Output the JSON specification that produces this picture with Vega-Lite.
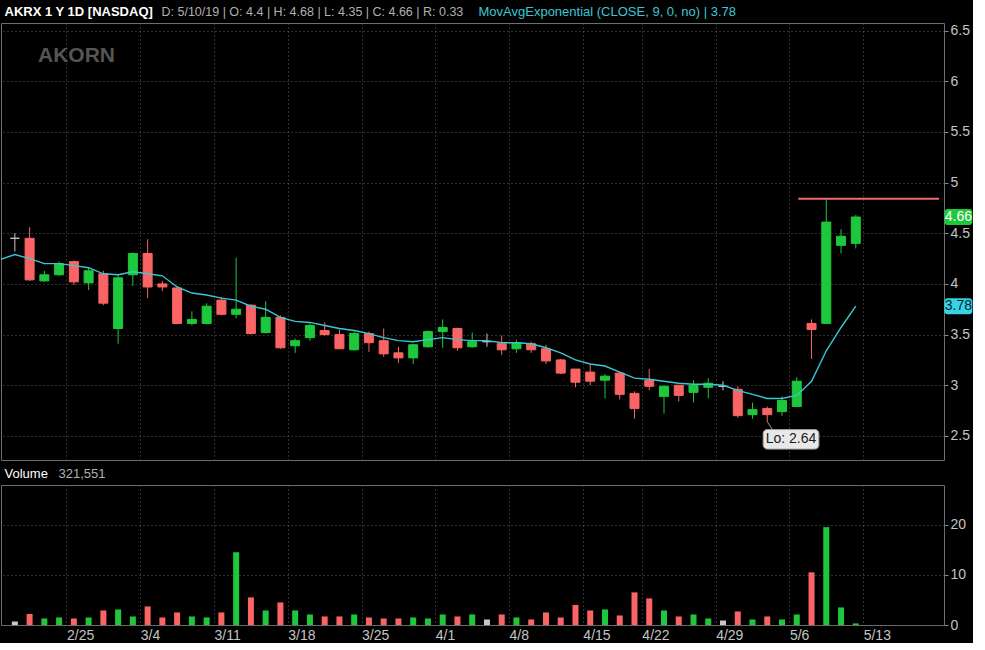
{
  "$schema": "https://vega.github.io/schema/vega-lite/v6.json",
  "background": "#000000",
  "padding": {"left": 0, "top": 5, "right": 0, "bottom": 0},
  "spacing": 5,
  "config": {
    "view": {"stroke": "#6e6e6e", "strokeWidth": 1},
    "font": "Liberation Sans",
    "axis": {"labelFont": "Liberation Sans", "titleFont": "Liberation Sans"}
  },
  "datasets": {
    "ohlc": [
      {"i": -1, "d": "2/15", "ema": 4.24},
      {"i": 0, "d": "2/19", "o": 4.45, "h": 4.50, "l": 4.32, "c": 4.45, "v": 0.7, "ema": 4.29, "dir": "flat"},
      {"i": 1, "d": "2/20", "o": 4.45, "h": 4.56, "l": 4.03, "c": 4.04, "v": 2.2, "ema": 4.25, "dir": "down"},
      {"i": 2, "d": "2/21", "o": 4.03, "h": 4.13, "l": 4.02, "c": 4.09, "v": 1.3, "ema": 4.20, "dir": "up"},
      {"i": 3, "d": "2/22", "o": 4.09, "h": 4.22, "l": 4.08, "c": 4.20, "v": 1.5, "ema": 4.20, "dir": "up"},
      {"i": 4, "d": "2/25", "o": 4.22, "h": 4.23, "l": 3.99, "c": 4.02, "v": 1.3, "ema": 4.18, "dir": "down"},
      {"i": 5, "d": "2/26", "o": 4.01, "h": 4.16, "l": 3.94, "c": 4.13, "v": 1.5, "ema": 4.16, "dir": "up"},
      {"i": 6, "d": "2/27", "o": 4.10, "h": 4.13, "l": 3.79, "c": 3.81, "v": 2.9, "ema": 4.10, "dir": "down"},
      {"i": 7, "d": "2/28", "o": 3.56, "h": 4.09, "l": 3.41, "c": 4.06, "v": 3.1, "ema": 4.09, "dir": "up"},
      {"i": 8, "d": "3/1", "o": 4.09, "h": 4.31, "l": 3.98, "c": 4.30, "v": 1.7, "ema": 4.12, "dir": "up"},
      {"i": 9, "d": "3/4", "o": 4.30, "h": 4.44, "l": 3.86, "c": 3.97, "v": 3.7, "ema": 4.10, "dir": "down"},
      {"i": 10, "d": "3/5", "o": 4.00, "h": 4.03, "l": 3.93, "c": 3.97, "v": 1.5, "ema": 4.08, "dir": "down"},
      {"i": 11, "d": "3/6", "o": 3.96, "h": 3.98, "l": 3.60, "c": 3.61, "v": 2.5, "ema": 3.97, "dir": "down"},
      {"i": 12, "d": "3/7", "o": 3.61, "h": 3.73, "l": 3.59, "c": 3.65, "v": 1.7, "ema": 3.91, "dir": "up"},
      {"i": 13, "d": "3/8", "o": 3.61, "h": 3.81, "l": 3.60, "c": 3.78, "v": 1.5, "ema": 3.89, "dir": "up"},
      {"i": 14, "d": "3/11", "o": 3.84, "h": 3.87, "l": 3.69, "c": 3.70, "v": 2.5, "ema": 3.86, "dir": "down"},
      {"i": 15, "d": "3/12", "o": 3.70, "h": 4.26, "l": 3.66, "c": 3.75, "v": 14.5, "ema": 3.84, "dir": "up"},
      {"i": 16, "d": "3/13", "o": 3.79, "h": 3.80, "l": 3.50, "c": 3.51, "v": 5.5, "ema": 3.78, "dir": "down"},
      {"i": 17, "d": "3/14", "o": 3.52, "h": 3.83, "l": 3.51, "c": 3.67, "v": 2.9, "ema": 3.75, "dir": "up"},
      {"i": 18, "d": "3/15", "o": 3.67, "h": 3.69, "l": 3.36, "c": 3.37, "v": 4.5, "ema": 3.67, "dir": "down"},
      {"i": 19, "d": "3/18", "o": 3.39, "h": 3.46, "l": 3.32, "c": 3.44, "v": 2.9, "ema": 3.63, "dir": "up"},
      {"i": 20, "d": "3/19", "o": 3.47, "h": 3.61, "l": 3.44, "c": 3.59, "v": 2.1, "ema": 3.62, "dir": "up"},
      {"i": 21, "d": "3/20", "o": 3.54, "h": 3.62, "l": 3.49, "c": 3.50, "v": 1.7, "ema": 3.59, "dir": "down"},
      {"i": 22, "d": "3/21", "o": 3.50, "h": 3.55, "l": 3.36, "c": 3.36, "v": 1.7, "ema": 3.56, "dir": "down"},
      {"i": 23, "d": "3/22", "o": 3.35, "h": 3.53, "l": 3.34, "c": 3.51, "v": 2.1, "ema": 3.54, "dir": "up"},
      {"i": 24, "d": "3/25", "o": 3.51, "h": 3.53, "l": 3.33, "c": 3.42, "v": 1.5, "ema": 3.51, "dir": "down"},
      {"i": 25, "d": "3/26", "o": 3.44, "h": 3.56, "l": 3.28, "c": 3.31, "v": 1.3, "ema": 3.47, "dir": "down"},
      {"i": 26, "d": "3/27", "o": 3.32, "h": 3.38, "l": 3.22, "c": 3.27, "v": 1.3, "ema": 3.44, "dir": "down"},
      {"i": 27, "d": "3/28", "o": 3.27, "h": 3.41, "l": 3.21, "c": 3.40, "v": 1.5, "ema": 3.43, "dir": "up"},
      {"i": 28, "d": "3/29", "o": 3.38, "h": 3.54, "l": 3.37, "c": 3.53, "v": 1.3, "ema": 3.45, "dir": "up"},
      {"i": 29, "d": "4/1", "o": 3.53, "h": 3.65, "l": 3.37, "c": 3.57, "v": 2.1, "ema": 3.47, "dir": "up"},
      {"i": 30, "d": "4/2", "o": 3.56, "h": 3.57, "l": 3.34, "c": 3.37, "v": 1.7, "ema": 3.45, "dir": "down"},
      {"i": 31, "d": "4/3", "o": 3.38, "h": 3.52, "l": 3.37, "c": 3.43, "v": 2.1, "ema": 3.44, "dir": "up"},
      {"i": 32, "d": "4/4", "o": 3.43, "h": 3.51, "l": 3.38, "c": 3.43, "v": 1.1, "ema": 3.44, "dir": "flat"},
      {"i": 33, "d": "4/5", "o": 3.41, "h": 3.49, "l": 3.30, "c": 3.35, "v": 2.1, "ema": 3.42, "dir": "down"},
      {"i": 34, "d": "4/8", "o": 3.36, "h": 3.45, "l": 3.32, "c": 3.42, "v": 1.5, "ema": 3.42, "dir": "up"},
      {"i": 35, "d": "4/9", "o": 3.41, "h": 3.43, "l": 3.32, "c": 3.35, "v": 1.1, "ema": 3.41, "dir": "down"},
      {"i": 36, "d": "4/10", "o": 3.36, "h": 3.40, "l": 3.21, "c": 3.24, "v": 2.5, "ema": 3.37, "dir": "down"},
      {"i": 37, "d": "4/11", "o": 3.25, "h": 3.26, "l": 3.11, "c": 3.12, "v": 1.5, "ema": 3.32, "dir": "down"},
      {"i": 38, "d": "4/12", "o": 3.16, "h": 3.16, "l": 2.98, "c": 3.03, "v": 4.0, "ema": 3.25, "dir": "down"},
      {"i": 39, "d": "4/15", "o": 3.13, "h": 3.21, "l": 3.00, "c": 3.04, "v": 2.9, "ema": 3.21, "dir": "down"},
      {"i": 40, "d": "4/16", "o": 3.05, "h": 3.11, "l": 2.87, "c": 3.09, "v": 3.1, "ema": 3.19, "dir": "up"},
      {"i": 41, "d": "4/17", "o": 3.12, "h": 3.13, "l": 2.86, "c": 2.91, "v": 1.9, "ema": 3.13, "dir": "down"},
      {"i": 42, "d": "4/18", "o": 2.92, "h": 2.94, "l": 2.67, "c": 2.77, "v": 6.5, "ema": 3.07, "dir": "down"},
      {"i": 43, "d": "4/22", "o": 3.05, "h": 3.16, "l": 2.95, "c": 2.99, "v": 5.3, "ema": 3.06, "dir": "down"},
      {"i": 44, "d": "4/23", "o": 2.89, "h": 3.00, "l": 2.72, "c": 2.99, "v": 2.9, "ema": 3.04, "dir": "up"},
      {"i": 45, "d": "4/24", "o": 3.00, "h": 3.00, "l": 2.84, "c": 2.90, "v": 1.7, "ema": 3.02, "dir": "down"},
      {"i": 46, "d": "4/25", "o": 2.93, "h": 3.05, "l": 2.83, "c": 3.00, "v": 2.1, "ema": 3.01, "dir": "up"},
      {"i": 47, "d": "4/26", "o": 2.98, "h": 3.07, "l": 2.87, "c": 3.02, "v": 1.3, "ema": 3.01, "dir": "up"},
      {"i": 48, "d": "4/29", "o": 2.99, "h": 3.04, "l": 2.95, "c": 2.99, "v": 0.9, "ema": 3.00, "dir": "flat"},
      {"i": 49, "d": "4/30", "o": 2.96, "h": 2.99, "l": 2.68, "c": 2.70, "v": 2.7, "ema": 2.95, "dir": "down"},
      {"i": 50, "d": "5/1", "o": 2.71, "h": 2.83, "l": 2.67, "c": 2.76, "v": 1.1, "ema": 2.91, "dir": "up"},
      {"i": 51, "d": "5/2", "o": 2.77, "h": 2.79, "l": 2.64, "c": 2.71, "v": 1.7, "ema": 2.87, "dir": "down"},
      {"i": 52, "d": "5/3", "o": 2.74, "h": 2.89, "l": 2.70, "c": 2.85, "v": 1.1, "ema": 2.87, "dir": "up"},
      {"i": 53, "d": "5/6", "o": 2.79, "h": 3.08, "l": 2.79, "c": 3.04, "v": 2.1, "ema": 2.90, "dir": "up"},
      {"i": 54, "d": "5/7", "o": 3.61, "h": 3.65, "l": 3.26, "c": 3.55, "v": 10.5, "ema": 3.04, "dir": "down"},
      {"i": 55, "d": "5/8", "o": 3.61, "h": 4.84, "l": 3.61, "c": 4.61, "v": 19.5, "ema": 3.34, "dir": "up"},
      {"i": 56, "d": "5/9", "o": 4.38, "h": 4.54, "l": 4.30, "c": 4.47, "v": 3.5, "ema": 3.57, "dir": "up"},
      {"i": 57, "d": "5/10", "o": 4.40, "h": 4.68, "l": 4.35, "c": 4.66, "v": 0.32, "ema": 3.78, "dir": "up"}
    ],
    "hi": [{"label": "Hi", "p": 4.84}],
    "lo": [{"label": "Lo: 2.64", "p": 2.64}],
    "last": [
      {"label": "4.66", "p": 4.66, "k": "close"},
      {"label": "3.78", "p": 3.78, "k": "ema"}
    ]
  },
  "vconcat": [
    {
      "width": 943,
      "height": 437,
      "data": {"name": "ohlc"},
      "title": {
        "text": "AKORN", "anchor": "start", "frame": "group", "orient": "top",
        "dx": 37, "dy": 81, "offset": 0, "baseline": "bottom",
        "fontSize": 21, "fontWeight": "bold", "font": "Liberation Sans", "color": "#555555"
      },
      "resolve": {"axis": {"x": "independent", "y": "independent"}},
      "layer": [
        {
          "mark": {"type": "rule", "strokeWidth": 1, "clip": true},
          "encoding": {
            "x": {
              "field": "i", "type": "quantitative",
              "scale": {"domain": [-0.6, 62.64], "nice": false, "zero": false},
              "axis": {
                "orient": "bottom",
                "values": [3.5, 8.5, 13.5, 18.5, 23.5, 28.5, 33.5, 38.5, 42.5, 47.5, 52.5, 57.5],
                "labels": false, "ticks": false, "domain": false,
                "grid": true, "gridColor": "#5c5c5c", "gridDash": [1, 3],
                "title": null
              }
            },
            "y": {
              "field": "l", "type": "quantitative",
              "scale": {"domain": [2.312, 6.525], "nice": false, "zero": false},
              "axis": {
                "orient": "right",
                "values": [2.5, 3, 3.5, 4, 4.5, 5, 5.5, 6, 6.5],
                "format": "~g",
                "labelColor": "#c4c4c4", "labelFontSize": 14, "labelPadding": 2,
                "tickSize": 4, "tickColor": "#8a8a8a", "domain": false,
                "grid": true, "gridColor": "#5c5c5c", "gridDash": [1, 3],
                "title": "AKRX 1 Y 1D [NASDAQ]",
                "titleX": -940, "titleY": -11.5, "titleAlign": "left", "titleBaseline": "middle", "titleAngle": 0,
                "titleColor": "#ffffff", "titleFontSize": 13, "titleFontWeight": "bold"
              }
            },
            "y2": {"field": "h"},
            "color": {
              "field": "dir", "type": "nominal",
              "scale": {"domain": ["up", "down", "flat"], "range": ["#1ec83c", "#fa6464", "#c8c8c8"]},
              "legend": null
            }
          }
        },
        {
          "mark": {"type": "bar", "orient": "vertical", "width": 9, "strokeWidth": 1, "clip": true},
          "encoding": {
            "x": {
              "field": "i", "type": "quantitative",
              "axis": {
                "orient": "top", "labels": false, "ticks": false, "domain": false, "grid": false,
                "title": "D: 5/10/19 | O: 4.4 | H: 4.68 | L: 4.35 | C: 4.66 | R: 0.33",
                "titleX": 160, "titleY": -11.5, "titleAlign": "left", "titleBaseline": "middle", "titleAngle": 0,
                "titleColor": "#b0b0b0", "titleFontSize": 12.5, "titleFontWeight": "normal"
              }
            },
            "y": {"field": "o", "type": "quantitative", "axis": null},
            "y2": {"field": "c"},
            "fill": {
              "field": "dir", "type": "nominal",
              "scale": {"domain": ["up", "down", "flat"], "range": ["#1ec83c", "#fa6464", "#c8c8c8"]},
              "legend": null
            },
            "stroke": {
              "field": "dir", "type": "nominal",
              "scale": {"domain": ["up", "down", "flat"], "range": ["#1ec83c", "#fa6464", "#c8c8c8"]},
              "legend": null
            }
          }
        },
        {
          "mark": {"type": "line", "color": "#3cc6d4", "strokeWidth": 1.4, "clip": true},
          "encoding": {
            "x": {"field": "i", "type": "quantitative", "axis": null},
            "y": {
              "field": "ema", "type": "quantitative",
              "axis": {
                "orient": "left", "labels": false, "ticks": false, "domain": false, "grid": false,
                "title": "MovAvgExponential (CLOSE, 9, 0, no) | 3.78",
                "titleX": 477, "titleY": -11.5, "titleAlign": "left", "titleBaseline": "middle", "titleAngle": 0,
                "titleColor": "#3cc6d4", "titleFontSize": 13, "titleFontWeight": "normal"
              }
            }
          }
        },
        {
          "data": {"name": "hi"},
          "mark": {"type": "rule", "color": "#f06a6a", "strokeWidth": 2},
          "encoding": {
            "x": {"datum": 53.1, "type": "quantitative", "axis": null},
            "x2": {"datum": 62.64},
            "y": {"field": "p", "type": "quantitative", "axis": null}
          }
        },
        {
          "data": {"name": "lo"},
          "mark": {"type": "rule", "color": "#9a9a9a", "strokeWidth": 1},
          "encoding": {
            "x": {"datum": 51, "type": "quantitative", "axis": null},
            "x2": {"datum": 51.35},
            "y": {"field": "p", "type": "quantitative", "axis": null},
            "y2": {"datum": 2.563}
          }
        },
        {
          "data": {"name": "lo"},
          "mark": {"type": "rect", "fill": "#e8e8e8", "stroke": "#9a9a9a", "strokeWidth": 1, "cornerRadius": 4},
          "encoding": {
            "x": {"datum": 50.72, "type": "quantitative", "axis": null},
            "x2": {"datum": 54.5},
            "y": {"datum": 2.563, "type": "quantitative", "axis": null},
            "y2": {"datum": 2.37}
          }
        },
        {
          "data": {"name": "lo"},
          "mark": {"type": "text", "color": "#1a1a1a", "fontSize": 14, "font": "Liberation Sans"},
          "encoding": {
            "x": {"datum": 52.61, "type": "quantitative", "axis": null},
            "y": {"datum": 2.466, "type": "quantitative", "axis": null},
            "text": {"field": "label"}
          }
        },
        {
          "data": {"name": "last"},
          "mark": {"type": "bar", "orient": "horizontal", "height": 16, "cornerRadius": 3, "clip": false},
          "encoding": {
            "x": {"datum": 63.0, "type": "quantitative", "axis": null},
            "x2": {"datum": 64.9},
            "y": {"field": "p", "type": "quantitative", "axis": null},
            "fill": {"condition": {"test": "datum.k === 'close'", "value": "#1ec83c"}, "value": "#38d2e4"}
          }
        },
        {
          "data": {"name": "last"},
          "mark": {"type": "text", "fontSize": 14, "font": "Liberation Sans", "clip": false},
          "encoding": {
            "x": {"datum": 63.95, "type": "quantitative", "axis": null},
            "y": {"field": "p", "type": "quantitative", "axis": null},
            "text": {"field": "label"},
            "color": {"condition": {"test": "datum.k === 'close'", "value": "#ffffff"}, "value": "#04262e"}
          }
        }
      ]
    },
    {
      "width": 943,
      "height": 140,
      "data": {"name": "ohlc"},
      "mark": {"type": "bar", "width": 6, "clip": true},
      "encoding": {
        "x": {
          "field": "i", "type": "quantitative",
          "scale": {"domain": [-0.6, 62.64], "nice": false, "zero": false},
          "axis": {
            "orient": "bottom",
            "values": [3.5, 8.5, 13.5, 18.5, 23.5, 28.5, 33.5, 38.5, 42.5, 47.5, 52.5, 57.5],
            "labelExpr": "['2/25','3/4','3/11','3/18','3/25','4/1','4/8','4/15','4/22','4/29','5/6','5/13'][indexof([3.5,8.5,13.5,18.5,23.5,28.5,33.5,38.5,42.5,47.5,52.5,57.5], datum.value)]",
            "labelAlign": "left", "labelColor": "#c4c4c4", "labelFontSize": 14, "labelPadding": 3, "labelFlush": false,
            "ticks": false, "domain": false,
            "grid": true, "gridColor": "#5c5c5c", "gridDash": [1, 3],
            "title": "321,551",
            "titleX": 57, "titleY": -152, "titleAlign": "left", "titleBaseline": "middle", "titleAngle": 0,
            "titleColor": "#b0b0b0", "titleFontSize": 13, "titleFontWeight": "normal"
          }
        },
        "y": {
          "field": "v", "type": "quantitative",
          "scale": {"domain": [0, 27.9], "nice": false},
          "stack": null,
          "axis": {
            "orient": "right", "values": [0, 10, 20],
            "labelColor": "#c4c4c4", "labelFontSize": 14, "labelPadding": 2,
            "tickSize": 4, "tickColor": "#8a8a8a", "domain": false,
            "grid": true, "gridColor": "#5c5c5c", "gridDash": [1, 3],
            "title": "Volume",
            "titleX": -940, "titleY": -12, "titleAlign": "left", "titleBaseline": "middle", "titleAngle": 0,
            "titleColor": "#ffffff", "titleFontSize": 13, "titleFontWeight": "normal"
          }
        },
        "color": {
          "field": "dir", "type": "nominal",
          "scale": {"domain": ["up", "down", "flat"], "range": ["#1ec83c", "#fa6464", "#c8c8c8"]},
          "legend": null
        }
      }
    }
  ]
}
